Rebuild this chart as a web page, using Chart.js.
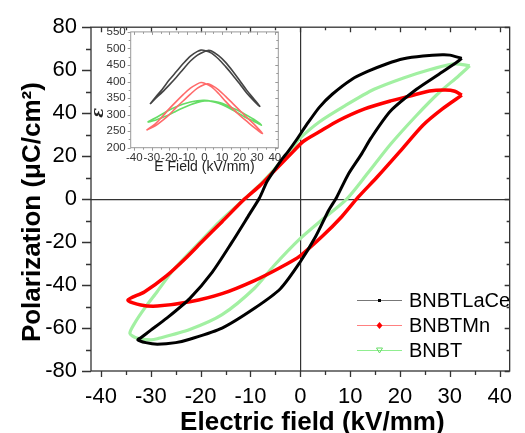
<!DOCTYPE html>
<html><head><meta charset="utf-8">
<script src="https://cdn.jsdelivr.net/npm/chart.js@4.4.1/dist/chart.umd.min.js"></script>
<style>
html,body{margin:0;padding:0;background:#fff;}
#wrap{position:relative;width:525px;height:433px;overflow:hidden;}
#main{position:absolute;left:0;top:0;}
#inset{position:absolute;left:80px;top:20px;}
</style></head><body>
<div id="wrap"><canvas id="main" width="525" height="433"></canvas><canvas id="inset" width="205" height="160"></canvas></div>
<script>
const FONT = "'Liberation Sans', Arial, sans-serif";
const seriesNames = ['BNBTLaCe', 'BNBTMn', 'BNBT'];

// ---- Main P-E loops: electric field (kV/mm) and polarization (µC/cm²) ----
const laceE = [32.4, 30.0, 28.5, 24.6, 20.7, 17.4, 13.5, 10.3, 6.4, 3.8, 1.2, -0.8, -2.5, -4.0, -6.6, -8.2, -10.2, -13.8, -17.7, -22.2, -26.8, -30.0, -32.0, -32.6, -31.0, -28.7, -25.0, -22.2, -15.7, -9.2, -4.0, -0.1, 3.1, 5.7, 7.3, 9.6, 12.2, 14.2, 18.1, 23.3, 27.2, 31.1, 32.4];
const laceP = [65.5, 67.0, 67.2, 66.6, 65.3, 63.0, 59.4, 55.7, 48.8, 42.7, 34.4, 27.5, 22.0, 17.6, 8.5, 0.5, -7.0, -20.4, -34.1, -46.3, -55.4, -61.0, -64.5, -65.5, -66.8, -67.5, -66.8, -65.2, -60.0, -50.8, -41.7, -29.5, -17.3, -5.2, 0.9, 11.5, 20.7, 28.5, 41.0, 51.1, 57.2, 63.2, 65.5];

const mnE = [32.4, 31.0, 29.1, 25.9, 22.0, 18.1, 12.9, 7.7, 3.8, 0.5, -1.4, -5.3, -8.0, -11.2, -15.7, -19.6, -23.0, -26.8, -31.3, -34.6, -32.0, -28.7, -22.2, -15.7, -9.2, -4.0, -0.1, 4.4, 8.3, 11.6, 15.5, 20.0, 24.6, 28.5, 32.4];
const mnP = [48.4, 50.2, 50.8, 50.3, 48.0, 45.7, 42.0, 36.6, 31.3, 26.7, 22.2, 13.0, 6.5, 0.0, -10.5, -19.5, -27.5, -35.6, -43.2, -47.0, -49.3, -49.8, -47.8, -44.0, -37.9, -31.8, -26.5, -17.3, -8.2, 0.9, 10.5, 22.2, 34.4, 42.0, 48.4];

const bnbtE = [34.0, 32.0, 30.4, 25.9, 20.7, 14.8, 9.0, 3.8, -0.1, -1.4, -5.0, -8.0, -11.0, -16.0, -21.0, -25.5, -28.7, -31.3, -33.3, -34.2, -33.0, -30.0, -28.7, -22.2, -15.7, -9.2, -5.3, -0.1, 4.4, 9.3, 13.5, 18.1, 23.3, 27.8, 31.7, 34.0];
const bnbtP = [62.0, 62.8, 62.8, 60.2, 56.4, 51.1, 43.5, 35.9, 28.3, 24.5, 14.5, 7.0, 0.5, -10.0, -22.0, -33.0, -43.0, -51.0, -58.0, -62.5, -64.5, -65.5, -65.0, -60.7, -53.8, -41.5, -31.0, -18.5, -9.5, 0.0, 12.0, 25.5, 38.9, 49.5, 57.2, 62.0];

// ---- Inset: permittivity vs field ----
const insLaceE = [-31, -28, -24, -20, -16, -12, -8, -4, -2, 0, 4, 8, 12, 16, 20, 24, 28, 31.5, 28, 24, 20, 16, 12, 8, 4, 2, 0, -4, -8, -12, -16, -20, -24, -28, -31];
const insLaceEps = [332, 352, 377, 405, 430, 455, 477, 491, 495, 494, 486, 468, 445, 420, 393, 365, 342, 325, 348, 374, 403, 432, 458, 478, 492, 494, 491, 480, 462, 438, 413, 390, 368, 348, 332];

const insMnE = [-33, -28, -24, -20, -16, -12, -8, -4, -2, 0, 4, 8, 12, 16, 20, 24, 28, 33, 28, 24, 20, 16, 12, 8, 4, 2, 0, -4, -8, -12, -16, -20, -24, -28, -33];
const insMnEps = [253, 272, 294, 318, 340, 361, 380, 393, 397, 395, 384, 364, 340, 318, 298, 280, 262, 243, 272, 292, 313, 334, 355, 375, 389, 393, 391, 380, 362, 342, 322, 300, 282, 266, 253];

const insBnbtE = [-32.4, -28, -24, -20, -16, -12, -8, -4, 0, 4, 8, 12, 16, 20, 24, 28, 32.4, 28, 24, 20, 16, 12, 8, 4, 0, -4, -8, -12, -16, -20, -24, -28, -32.4];
const insBnbtEps = [278, 290, 302, 314, 324, 332, 338, 342, 343, 340, 334, 325, 314, 302, 290, 280, 268, 286, 298, 310, 320, 330, 337, 341, 341, 337, 330, 321, 311, 300, 291, 283, 277];

const mainColors = ['#000000', '#ff0000', '#a2f0a2'];
const mainWidths = [3, 3.5, 3.2];
const insetColors = ['#444444', '#ff6a6a', '#66dd66'];
const legendLine = ['#777777', '#ff8080', '#90ee90'];

const toPts = (xs, ys) => xs.map((v, i) => ({x: v, y: ys[i]}));

// Ticks/frame plugin
const frameTicks = {
  id: 'frameTicks',
  beforeDraw(chart, args, o) {
    const sh = o.titleShift || {};
    for (const id of Object.keys(sh)) {
      const s = chart.scales[id];
      if (s && !s._shiftPatched) {
        const orig = s.drawTitle.bind(s);
        const d = sh[id];
        s.drawTitle = function () { const c = this.ctx; c.save(); c.translate(d[0], d[1]); orig(); c.restore(); };
        s._shiftPatched = true;
      }
    }
  },
  afterDraw(chart, args, o) {
    const {ctx, chartArea: {left, right, top, bottom}, scales: {x, y}} = chart;
    ctx.save();
    ctx.strokeStyle = o.color; ctx.lineWidth = o.lw;
    ctx.beginPath();
    for (let v = Math.ceil(x.min / o.xMinor) * o.xMinor; v <= x.max + 1e-9; v += o.xMinor) {
      const px = Math.round(x.getPixelForValue(v)) + 0.5;
      const maj = Math.abs(Math.round(v / o.xMajor) * o.xMajor - v) < 1e-6;
      ctx.moveTo(px, bottom); ctx.lineTo(px, bottom + (maj ? o.xOut[0] : o.xOut[1]));
      ctx.moveTo(px, top); ctx.lineTo(px, top + (maj ? o.inLen[0] : o.inLen[1]));
    }
    for (let v = Math.ceil(y.min / o.yMinor) * o.yMinor; v <= y.max + 1e-9; v += o.yMinor) {
      const py = Math.round(y.getPixelForValue(v)) + 0.5;
      const maj = Math.abs(Math.round(v / o.yMajor) * o.yMajor - v) < 1e-6;
      ctx.moveTo(left, py); ctx.lineTo(left - (maj ? o.yOut[0] : o.yOut[1]), py);
      ctx.moveTo(right, py); ctx.lineTo(right - (maj ? o.inLen[0] : o.inLen[1]), py);
    }
    ctx.stroke();
    ctx.strokeRect(left, top, right - left, bottom - top);
    ctx.restore();
  }
};

// In-plot legend
const insideLegend = {
  id: 'insideLegend',
  afterDraw(chart, args, o) {
    if (!o.display) return;
    const ctx = chart.ctx;
    ctx.save();
    chart.data.datasets.forEach((ds, i) => {
      const yy = o.y0 + i * o.dy;
      ctx.strokeStyle = legendLine[i]; ctx.lineWidth = 1;
      ctx.beginPath(); ctx.moveTo(o.x0, yy + 0.5); ctx.lineTo(o.x1, yy + 0.5); ctx.stroke();
      const cx = (o.x0 + o.x1) / 2;
      if (i === 0) { ctx.fillStyle = '#000'; ctx.fillRect(cx - 1.5, yy - 1, 3, 3); }
      else if (i === 1) {
        ctx.fillStyle = '#ff0000'; ctx.beginPath();
        ctx.moveTo(cx, yy - 3); ctx.lineTo(cx + 3, yy + 0.5); ctx.lineTo(cx, yy + 4); ctx.lineTo(cx - 3, yy + 0.5); ctx.closePath(); ctx.fill();
      } else {
        ctx.strokeStyle = '#66dd66'; ctx.beginPath();
        ctx.moveTo(cx - 3, yy - 2); ctx.lineTo(cx + 3, yy - 2); ctx.lineTo(cx, yy + 3); ctx.closePath(); ctx.stroke();
      }
      ctx.fillStyle = '#000'; ctx.font = '20px ' + FONT; ctx.textBaseline = 'middle'; ctx.textAlign = 'left';
      ctx.fillText(ds.label, o.tx, yy + 1);
    });
    ctx.restore();
  }
};

const zeroGrid = (c) => (c.tick && c.tick.value === 0) ? '#333333' : 'rgba(0,0,0,0)';

new Chart(document.getElementById('main'), {
  type: 'scatter',
  data: {
    datasets: [
      {label: seriesNames[0], data: toPts(laceE, laceP)},
      {label: seriesNames[1], data: toPts(mnE, mnP)},
      {label: seriesNames[2], data: toPts(bnbtE, bnbtP)}
    ].map((d, i) => Object.assign(d, {showLine: true, borderColor: mainColors[i], backgroundColor: mainColors[i], borderWidth: mainWidths[i], pointRadius: 0, tension: 0.25, fill: false}))
  },
  options: {
    responsive: false, animation: false, devicePixelRatio: 1,
    layout: {padding: {top: 20, right: 3, left: 0, bottom: 0}},
    plugins: {
      legend: {display: false}, tooltip: {enabled: false},
      frameTicks: {color: '#333', lw: 1.3, xMajor: 10, xMinor: 5, yMajor: 20, yMinor: 10, xOut: [6, 4], yOut: [9, 5], inLen: [5, 3], titleShift: {x: [12, 0], y: [0, 13]}},
      insideLegend: {display: true, x0: 357, x1: 402, tx: 409, y0: 300, dy: 25}
    },
    scales: {
      x: {
        type: 'linear', min: -42, max: 42,
        ticks: {stepSize: 10, includeBounds: false, autoSkip: false, maxRotation: 0, font: {size: 22, family: FONT}, color: '#000', padding: 13},
        grid: {drawTicks: false, color: zeroGrid, lineWidth: 1.2},
        border: {display: false},
        title: {display: true, text: 'Electric field (kV/mm)', color: '#000', font: {size: 26, weight: 'bold', family: FONT, lineHeight: 0.8}, padding: {top: 0, bottom: 0}},
        afterFit(s) { s.height = 62; }
      },
      y: {
        type: 'linear', min: -80, max: 80,
        ticks: {stepSize: 20, includeBounds: false, autoSkip: false, font: {size: 22, family: FONT}, color: '#000', padding: 14},
        grid: {drawTicks: false, color: zeroGrid, lineWidth: 1.2},
        border: {display: false},
        title: {display: true, text: 'Polarization (\u03bcC/cm\u00b2)', color: '#000', font: {size: 26, weight: 'bold', family: FONT, lineHeight: 1.2}, padding: {top: 17, bottom: 0}},
        afterFit(s) { s.width = 91; }
      }
    }
  },
  plugins: [frameTicks, insideLegend]
});

new Chart(document.getElementById('inset'), {
  type: 'scatter',
  data: {
    datasets: [
      {label: seriesNames[0], data: toPts(insLaceE, insLaceEps)},
      {label: seriesNames[1], data: toPts(insMnE, insMnEps)},
      {label: seriesNames[2], data: toPts(insBnbtE, insBnbtEps)}
    ].map((d, i) => Object.assign(d, {showLine: true, borderColor: insetColors[i], borderWidth: 1.6, pointRadius: 0, tension: 0.3, fill: false}))
  },
  options: {
    responsive: false, animation: false, devicePixelRatio: 1,
    layout: {padding: {top: 11, right: 6.7, left: 0, bottom: 0}},
    plugins: {
      legend: {display: false}, tooltip: {enabled: false},
      frameTicks: {color: '#999', lw: 1, xMajor: 10, xMinor: 5, yMajor: 50, yMinor: 25, xOut: [3, 2], yOut: [3, 2], inLen: [3, 2], titleShift: {y: [0, 23]}},
      insideLegend: {display: false}
    },
    scales: {
      x: {
        type: 'linear', min: -42, max: 42,
        ticks: {stepSize: 10, includeBounds: false, autoSkip: false, maxRotation: 0, font: {size: 11.5, family: FONT}, color: '#333', padding: 3},
        grid: {display: false, drawTicks: false},
        border: {display: false},
        title: {display: true, text: 'E Field (kV/mm)', color: '#222', font: {size: 14, family: FONT, lineHeight: 1}, padding: {top: 0, bottom: 6}},
        afterFit(s) { s.height = 32.3; }
      },
      y: {
        type: 'linear', min: 200, max: 550,
        ticks: {stepSize: 50, includeBounds: false, autoSkip: false, font: {size: 11.5, family: FONT}, color: '#333', padding: 5},
        grid: {display: false, drawTicks: false},
        border: {display: false},
        title: {display: true, text: '\u03b5', color: '#222', font: {size: 16, style: 'italic', weight: 'bold', family: "'DejaVu Serif', serif", lineHeight: 1}, padding: {top: 11, bottom: 0}},
        afterFit(s) { s.width = 50.7; }
      }
    }
  },
  plugins: [frameTicks, insideLegend]
});
</script>
</body></html>
